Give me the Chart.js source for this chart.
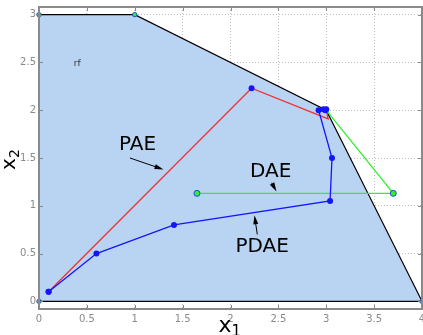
<!DOCTYPE html>
<html>
<head>
<meta charset="utf-8">
<style>
html, body { margin: 0; padding: 0; background: #fff; overflow: hidden; }
#wrap { width: 427px; height: 335px; }
</style>
<script src="https://cdn.jsdelivr.net/npm/chart.js@4/dist/chart.umd.min.js"></script>
</head>
<body>
<div id="wrap"><canvas id="chart"></canvas></div>
<script>
/* Feasible region vertices. */
const regionX = [0, 0, 1, 3, 4];
const regionY = [0, 3, 3, 2, 0];

/* PAE path. */
const paeX = [0.1, 2.22, 3.02, 3.0];
const paeY = [0.1, 2.23, 1.91, 2.0];

/* PDAE path. */
const pdaeX = [0.1, 0.6, 1.41, 3.04, 3.06, 2.92, 2.97, 3.0, 2.99];
const pdaeY = [0.1, 0.5, 0.8, 1.05, 1.5, 2.0, 2.01, 2.01, 2.0];

/* DAE path. */
const daeX = [1.65, 3.7, 3.0];
const daeY = [1.13, 1.13, 2.0];

/* Tick labels. */
const xTicks = [0, 0.5, 1, 1.5, 2, 2.5, 3, 3.5, 4];
const yTicks = [0, 0.5, 1, 1.5, 2, 2.5, 3];

/* Annotation texts and arrows, in data units. */
const noteText = ["PAE", "DAE", "PDAE"];
const noteAt = [[1.03, 1.64], [2.42, 1.36], [2.33, 0.57]];
const arrowFrom = [[0.95, 1.50], [2.43, 1.24], [2.28, 0.70]];
const arrowTo = [[1.30, 1.38], [2.48, 1.15], [2.25, 0.90]];

const pts = (xs, ys) => xs.map((x, i) => ({x: x, y: ys[i]}));

const BLUE = "#1414ff";
const RED = "#f03030";
const GREEN = "#33ee33";

const decor = {
	id: "decor",
	afterDraw(chart) {
		const ctx = chart.ctx;
		const a = chart.chartArea;
		const xs = chart.scales.x;
		const ys = chart.scales.y;
		ctx.save();

		/* Frame and inner ticks. */
		ctx.strokeStyle = "#8a8a8a";
		ctx.lineWidth = 1;
		ctx.beginPath();
		xTicks.forEach(v => {
			const px = Math.round(xs.getPixelForValue(v)) + 0.5;
			ctx.moveTo(px, a.top); ctx.lineTo(px, a.top + 4);
			ctx.moveTo(px, a.bottom); ctx.lineTo(px, a.bottom - 4);
		});
		yTicks.forEach(v => {
			const py = Math.round(ys.getPixelForValue(v)) + 0.5;
			ctx.moveTo(a.left, py); ctx.lineTo(a.left + 4, py);
			ctx.moveTo(a.right, py); ctx.lineTo(a.right - 4, py);
		});
		ctx.stroke();
		ctx.lineWidth = 2;
		ctx.strokeRect(a.left, a.top, a.right - a.left, a.bottom - a.top);

		/* Annotations. */
		ctx.fillStyle = "#000";
		ctx.strokeStyle = "#000";
		ctx.lineWidth = 1;
		ctx.font = "20px 'DejaVu Sans'";
		ctx.textAlign = "center";
		ctx.textBaseline = "middle";
		noteText.forEach((t, i) => {
			ctx.fillText(t, xs.getPixelForValue(noteAt[i][0]), ys.getPixelForValue(noteAt[i][1]));
			const x0 = xs.getPixelForValue(arrowFrom[i][0]);
			const y0 = ys.getPixelForValue(arrowFrom[i][1]);
			const x1 = xs.getPixelForValue(arrowTo[i][0]);
			const y1 = ys.getPixelForValue(arrowTo[i][1]);
			const ang = Math.atan2(y1 - y0, x1 - x0);
			ctx.beginPath();
			ctx.moveTo(x0, y0);
			ctx.lineTo(x1 - 6 * Math.cos(ang), y1 - 6 * Math.sin(ang));
			ctx.stroke();
			ctx.beginPath();
			ctx.moveTo(x1, y1);
			ctx.lineTo(x1 - 9 * Math.cos(ang) + 2.5 * Math.sin(ang), y1 - 9 * Math.sin(ang) - 2.5 * Math.cos(ang));
			ctx.lineTo(x1 - 9 * Math.cos(ang) - 2.5 * Math.sin(ang), y1 - 9 * Math.sin(ang) + 2.5 * Math.cos(ang));
			ctx.closePath();
			ctx.fill();
		});

		/* Small label in the region. */
		ctx.font = "9px 'DejaVu Sans'";
		ctx.fillStyle = "#333";
		ctx.fillText("rf", xs.getPixelForValue(0.4), ys.getPixelForValue(2.49));

		/* Axis titles with subscripts. */
		ctx.fillStyle = "#000";
		ctx.textAlign = "left";
		ctx.textBaseline = "alphabetic";
		const cx = (a.left + a.right) / 2;
		ctx.font = "22px 'DejaVu Sans'";
		ctx.fillText("x", cx - 12, 332);
		ctx.font = "15px 'DejaVu Sans'";
		ctx.fillText("1", cx + 1, 336);

		ctx.translate(15, (a.top + a.bottom) / 2 + 12);
		ctx.rotate(-Math.PI / 2);
		ctx.font = "20px 'DejaVu Sans'";
		ctx.fillText("x", 0, 0);
		ctx.font = "14px 'DejaVu Sans'";
		ctx.fillText("2", 12, 4);
		ctx.restore();
	}
};

new Chart(
	document.getElementById("chart"),
	{
		type: "scatter",
		data:
		{
			datasets:
			[
				{
					label: "PDAE",
					data: pts(pdaeX, pdaeY),
					showLine: true,
					borderColor: BLUE,
					borderWidth: 1.3,
					pointRadius: 3,
					pointBackgroundColor: BLUE,
					pointBorderWidth: 0,
					order: 1,
					clip: false,
				},
				{
					label: "DAE",
					data: pts(daeX, daeY),
					showLine: true,
					borderColor: GREEN,
					borderWidth: 1.3,
					pointRadius: [3, 3, 0],
					pointBackgroundColor: GREEN,
					pointBorderColor: "#1a4fd0",
					pointBorderWidth: 1,
					order: 2,
					clip: false,
				},
				{
					label: "PAE",
					data: pts(paeX, paeY),
					showLine: true,
					borderColor: RED,
					borderWidth: 1.3,
					pointRadius: [3, 3, 0, 0],
					pointBackgroundColor: BLUE,
					pointBorderWidth: 0,
					order: 3,
					clip: false,
				},
				{
					label: "base",
					data: pts([0, 4], [0, 0]),
					showLine: true,
					borderColor: "#000",
					borderWidth: 1.2,
					pointRadius: 0,
					order: 4,
					clip: false,
				},
				{
					label: "rf",
					data: pts(regionX, regionY),
					showLine: true,
					fill: "origin",
					backgroundColor: "#b9d4f2",
					borderColor: "#000",
					borderWidth: 1.2,
					pointRadius: 2.2,
					pointBackgroundColor: GREEN,
					pointBorderColor: "#1a4fd0",
					pointBorderWidth: 1,
					order: 5,
					clip: false,
				},
			],
		},
		options:
		{
			responsive: true,
			maintainAspectRatio: false,
			animation: false,
			layout: { padding: { top: 7, right: 0, left: 0, bottom: 0 } },
			plugins:
			{
				legend: { display: false },
				tooltip: { enabled: false },
			},
			scales:
			{
				x:
				{
					type: "linear",
					min: 0,
					max: 4,
					afterBuildTicks: (s) => { s.ticks = xTicks.map(v => ({value: v})); },
					afterFit: (s) => { s.height = 26; s.paddingLeft = 0; s.paddingRight = 0; },
					border: { display: false, dash: [1, 2] },
					grid: { color: "#bdbdbd", drawTicks: false, lineWidth: 1 },
					ticks: { color: "#8a8a8a", font: { size: 10, family: "'DejaVu Sans'" }, padding: 4, maxRotation: 0, autoSkip: false, callback: (v) => String(v) },
				},
				y:
				{
					type: "linear",
					min: -0.08,
					max: 3.08,
					afterBuildTicks: (s) => { s.ticks = yTicks.map(v => ({value: v})); },
					afterFit: (s) => { s.width = 39; s.paddingTop = 0; s.paddingBottom = 0; },
					border: { display: false, dash: [1, 2] },
					grid: { color: "#bdbdbd", drawTicks: false, lineWidth: 1 },
					ticks: { color: "#8a8a8a", font: { size: 10, family: "'DejaVu Sans'" }, padding: 3, autoSkip: false, callback: (v) => String(v) },
				},
			},
		},
		plugins: [decor],
	}
)
</script>
</body>
</html>
